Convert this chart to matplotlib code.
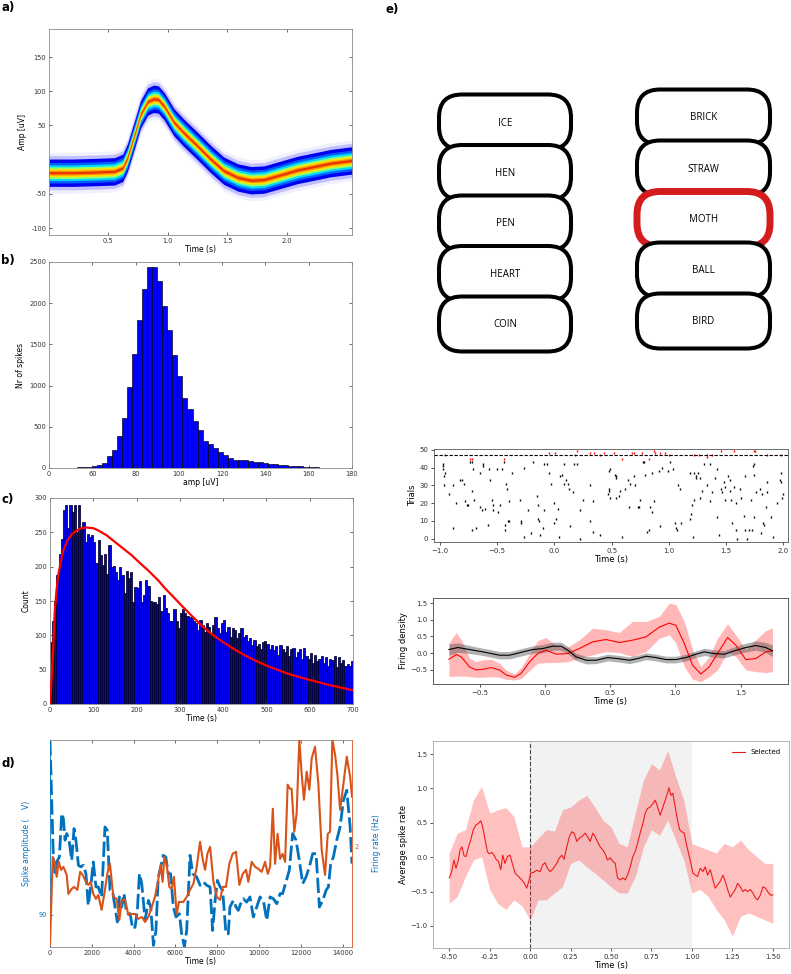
import numpy as np
import matplotlib
matplotlib.use("Agg")
import matplotlib.pyplot as plt
from matplotlib.patches import FancyBboxPatch

W, H = 791, 974

# a) mean spike waveform (density centre line)
wave_t = [0.0, 0.2, 0.4, 0.55, 0.62, 0.66, 0.72, 0.77, 0.83, 0.88, 0.92, 0.97, 1.05,
          1.13, 1.25, 1.36, 1.47, 1.59, 1.70, 1.81, 1.95, 2.09, 2.23, 2.37, 2.55]
wave_amp = [-19, -19, -18, -17, -12, 3, 37, 66, 85, 89, 88, 78, 55,
            40, 20, 1, -16, -26, -30, -29, -22, -15, -10, -5, -1]

# b) amplitude histogram
amp_start, amp_width = 50.4, 2.33
amp_counts = [5, 8, 12, 15, 25, 40, 65, 146, 220, 390,
              606, 980, 1378, 1793, 2170, 2435, 2435, 2272, 1967, 1679,
              1366, 1122, 850, 711, 565, 460, 329, 289, 248, 199,
              155, 118, 100, 98, 96, 80, 74, 68, 60, 54,
              48, 42, 36, 30, 26, 22, 16, 11, 7, 4]

# c) inter-spike histogram + fit
isi_counts = [91, 121, 150, 188, 219, 241, 282, 290, 256, 290,
              280, 290, 251, 290, 256, 265, 236, 247, 243, 246,
              236, 205, 239, 217, 202, 218, 190, 232, 200, 201,
              192, 180, 200, 188, 161, 193, 183, 192, 149, 170,
              169, 179, 149, 159, 181, 172, 150, 149, 149, 146,
              156, 135, 159, 140, 133, 121, 121, 138, 121, 110,
              133, 138, 133, 128, 126, 125, 121, 118, 108, 122,
              115, 105, 118, 112, 100, 115, 126, 110, 104, 118,
              122, 105, 112, 98, 110, 108, 96, 104, 110, 97,
              100, 92, 96, 86, 93, 84, 88, 80, 90, 92,
              88, 80, 86, 78, 84, 72, 86, 80, 76, 84,
              70, 80, 82, 68, 76, 80, 66, 82, 70, 66,
              75, 60, 72, 62, 66, 70, 60, 68, 56, 66,
              64, 70, 54, 68, 60, 64, 56, 58, 55, 62]
fit_t = [0, 4, 7, 11, 15, 19, 25, 30, 40, 50, 60, 72, 85, 100, 111, 130, 150, 170, 188,
         210, 226, 250, 265, 285, 303, 325, 349, 375, 400, 425, 450, 475, 500, 550, 600, 650, 700]
fit_y = [0, 40, 75, 135, 165, 188, 207, 222, 238, 247, 252, 256, 257, 256, 253, 246, 236, 226, 217,
         204, 195, 180, 169, 156, 144, 130, 115, 101, 90, 80, 71, 63, 56, 44, 35, 27, 20]

# d) amplitude (blue) and firing rate (orange) over the session
rate_t = [0, 130, 240, 320, 420, 530, 640, 800, 880, 1040,
          1150, 1310, 1440, 1560, 1720, 1830, 1950, 2070, 2200, 2310,
          2470, 2630, 2740, 2870, 3030, 3190, 3320, 3430, 3590, 3750,
          3910, 4070, 4230, 4390, 4550, 4710, 4870, 5020, 5180, 5300,
          5390, 5470, 5580, 5710, 5820, 5930, 6060, 6170, 6380, 6540,
          6700, 6860, 7020, 7180, 7310, 7420, 7530, 7660, 7820, 7980,
          8140, 8260, 8420, 8580, 8740, 8900, 9060, 9220, 9380, 9490,
          9650, 9810, 9970, 10130, 10290, 10420, 10530, 10660, 10770, 10890,
          11010, 11130, 11250, 11370, 11480, 11560, 11690, 11800, 11930, 12040,
          12150, 12280, 12410, 12520, 12680, 12840, 13000, 13160, 13290, 13400,
          13510, 13640, 13750, 13880, 14040, 14200, 14360, 14450]
rate_hz = [1.02, 1.90, 1.82, 1.70, 1.85, 1.77, 1.80, 1.72, 1.53, 1.58,
           1.60, 1.57, 1.75, 1.72, 1.65, 1.62, 1.65, 1.53, 1.48, 1.52,
           1.37, 1.57, 1.73, 1.83, 1.50, 1.48, 1.27, 1.47, 1.47, 1.32,
           1.33, 1.33, 1.28, 1.30, 1.25, 1.30, 1.40, 1.50, 1.67, 1.82,
           1.65, 1.90, 1.83, 1.60, 1.58, 1.70, 1.33, 1.45, 1.45, 1.50,
           1.57, 1.63, 1.80, 2.05, 1.87, 1.77, 1.93, 2.00, 1.65, 1.50,
           1.47, 1.60, 1.60, 1.83, 1.93, 1.95, 1.62, 1.73, 1.77, 1.65,
           1.85, 1.80, 1.78, 1.75, 1.85, 1.73, 1.80, 2.38, 1.83, 2.13,
           1.88, 1.93, 1.85, 2.62, 2.58, 2.58, 2.15, 2.33, 3.07, 2.73,
           2.47, 2.75, 2.57, 2.88, 3.00, 2.63, 1.97, 1.72, 2.13, 2.15,
           3.07, 2.92, 2.72, 2.37, 2.63, 2.90, 2.70, 2.50]
amp_t = [0, 80, 160, 240, 320, 450, 560, 640, 720, 800,
         910, 1040, 1150, 1240, 1360, 1470, 1600, 1720, 1830, 1950,
         2070, 2200, 2310, 2470, 2630, 2740, 2870, 3000, 3110, 3220,
         3320, 3430, 3540, 3670, 3830, 3960, 4070, 4180, 4280, 4390,
         4550, 4710, 4820, 4950, 5070, 5180, 5300, 5420, 5540, 5660,
         5770, 5900, 6030, 6190, 6300, 6430, 6540, 6700, 6830, 7020,
         7180, 7340, 7500, 7660, 7780, 7900, 8010, 8140, 8260, 8420,
         8530, 8610, 8770, 8900, 9010, 9120, 9250, 9410, 9570, 9730,
         9890, 10050, 10210, 10370, 10530, 10690, 10850, 11010, 11130, 11290,
         11450, 11610, 11770, 11930, 12090, 12250, 12410, 12570, 12730, 12890,
         13050, 13210, 13320, 13430, 13560, 13720, 13880, 14040, 14200, 14360,
         14450]
amp_uv = [98.42, 95.52, 92.78, 91.97, 92.54, 92.78, 94.88, 94.63, 93.59, 93.91,
          93.59, 92.62, 94.15, 93.59, 92.38, 92.30, 92.38, 91.97, 90.44, 91.33,
          92.54, 91.33, 91.33, 90.85, 94.23, 94.07, 91.17, 91.09, 90.36, 89.64,
          90.85, 90.36, 91.01, 90.04, 90.04, 89.31, 89.39, 90.20, 91.97, 91.49,
          89.72, 90.68, 90.36, 88.51, 89.23, 91.81, 92.30, 92.86, 92.78, 91.97,
          91.97, 90.36, 89.88, 90.04, 89.07, 88.43, 89.23, 92.86, 91.97, 91.81,
          91.41, 91.57, 91.41, 91.33, 89.23, 90.68, 91.65, 91.33, 91.17, 89.07,
          89.07, 90.36, 90.68, 90.36, 90.20, 90.52, 90.76, 90.60, 90.85, 89.88,
          90.36, 90.85, 90.68, 89.72, 90.85, 90.76, 90.52, 91.01, 91.01, 91.57,
          92.14, 93.91, 93.59, 92.62, 91.49, 91.81, 92.30, 92.94, 92.94, 90.36,
          90.68, 91.17, 91.33, 92.46, 92.78, 93.59, 94.23, 95.52, 96.00, 94.23,
          92.46]

# e) word list
left_words = ["ICE", "HEN", "PEN", "HEART", "COIN"]
right_words = ["BRICK", "STRAW", "MOTH", "BALL", "BIRD"]
selected_word = "MOTH"

# raster
spike_t = [-0.973, -0.973, -0.973, -0.961, -0.953, -0.961, -0.915, -0.880, -0.880, -0.856,
           -0.821, -0.804, -0.792, -0.778, -0.766, -0.754, -0.734, -0.722, -0.719, -0.719,
           -0.711, -0.705, -0.682, -0.652, -0.647, -0.632, -0.618, -0.618, -0.609, -0.583,
           -0.571, -0.565, -0.545, -0.536, -0.536, -0.501, -0.495, -0.472, -0.454, -0.443,
           -0.434, -0.428, -0.422, -0.414, -0.408, -0.399, -0.393, -0.370, -0.297, -0.291,
           -0.291, -0.268, -0.268, -0.233, -0.204, -0.189, -0.151, -0.146, -0.140, -0.137,
           -0.125, -0.099, -0.093, -0.087, -0.064, -0.050, -0.029, 0.000, 0.000, 0.012,
           0.032, 0.038, 0.052, 0.067, 0.082, 0.087, 0.102, 0.117, 0.125, 0.140,
           0.163, 0.175, 0.198, 0.221, 0.227, 0.251, 0.309, 0.315, 0.338, 0.338,
           0.402, 0.475, 0.475, 0.475, 0.484, 0.466, 0.489, 0.530, 0.535, 0.540,
           0.542, 0.562, 0.577, 0.591, 0.620, 0.644, 0.650, 0.664, 0.693, 0.702,
           0.731, 0.743, 0.752, 0.775, 0.786, 0.789, 0.810, 0.824, 0.833, 0.853,
           0.853, 0.868, 0.912, 0.920, 0.938, 0.993, 1.014, 1.034, 1.057, 1.066,
           1.072, 1.081, 1.095, 1.110, 1.183, 1.188, 1.197, 1.206, 1.212, 1.218,
           1.223, 1.235, 1.241, 1.255, 1.270, 1.276, 1.290, 1.305, 1.334, 1.357,
           1.363, 1.378, 1.407, 1.416, 1.421, 1.436, 1.451, 1.465, 1.480, 1.486,
           1.494, 1.518, 1.538, 1.532, 1.544, 1.553, 1.567, 1.582, 1.590, 1.596,
           1.625, 1.634, 1.655, 1.669, 1.669, 1.684, 1.698, 1.713, 1.727, 1.736,
           1.742, 1.742, 1.742, 1.765, 1.794, 1.800, 1.815, 1.823, 1.829, 1.844,
           1.858, 1.858, 1.888, 1.908, 1.940, 1.966, 1.975, 1.975, 1.990, 1.998]
spike_trial = [42, 41, 39, 35, 37, 30, 25, 6, 30, 20,
               33, 33, 31, 21, 19, 19, 43, 43, 27, 5,
               39, 22, 6, 37, 18, 16, 42, 41, 17, 8,
               39, 33, 22, 16, 19, 39, 15, 19, 39, 43,
               8, 5, 31, 28, 10, 21, 10, 37, 22, 10,
               9, 40, 1, 16, 3, 43, 24, 19, 11, 10,
               2, 6, 42, 16, 42, 37, 31, 20, 9, 11,
               17, 1, 35, 36, 42, 31, 33, 31, 28, 7,
               26, 42, 42, 16, 0, 22, 30, 10, 4, 21,
               2, 38, 28, 27, 23, 25, 39, 36, 35, 34,
               23, 24, 27, 1, 28, 33, 18, 31, 35, 30,
               18, 18, 22, 43, 43, 36, 4, 5, 18, 37,
               15, 21, 38, 7, 40, 38, 43, 39, 9, 6,
               5, 30, 28, 9, 37, 11, 14, 19, 1, 22,
               37, 34, 35, 37, 34, 23, 27, 42, 30, 42,
               21, 26, 34, 12, 39, 2, 28, 26, 32, 22,
               29, 35, 33, 27, 22, 9, 29, 5, 20, 0,
               28, 23, 13, 5, 35, 0, 5, 22, 5, 41,
               36, 42, 12, 26, 28, 3, 25, 9, 8, 18,
               32, 26, 12, 1, 20, 33, 37, 32, 23, 25]
sel_spike_t = [-0.953, -0.734, -0.719, -0.437, -0.050, 0.003, 0.184, 0.198, 0.315, 0.344,
               0.402, 0.437, 0.519, 0.591, 0.679, 0.693, 0.766, 0.824, 0.868, 0.883,
               0.926, 0.970, 0.999, 1.218, 1.261, 1.334, 1.334, 1.378, 1.451, 1.567,
               1.742, 1.756, 1.858, 1.975]
sel_spike_trial = [47, 45, 45, 45, 48, 48, 47, 49, 48, 48,
                   47, 48, 48, 45, 48, 48, 48, 45, 49, 48,
                   48, 48, 47, 47, 47, 47, 46, 47, 49, 49,
                   49, 49, 47, 47]
split_trial = 47

# firing density
dens_t = [-0.735, -0.679, -0.640, -0.577, -0.526, -0.474, -0.411, -0.347, -0.296, -0.232,
          -0.181, -0.117, -0.054, 0.010, 0.087, 0.176, 0.265, 0.367, 0.469, 0.571,
          0.673, 0.776, 0.878, 0.954, 1.005, 1.069, 1.133, 1.196, 1.260, 1.324,
          1.401, 1.464, 1.541, 1.617, 1.694, 1.745]
dens_sel = [-0.18, -0.04, -0.11, -0.41, -0.50, -0.48, -0.43, -0.50, -0.65, -0.72,
            -0.60, -0.26, -0.01, 0.09, -0.03, -0.01, 0.14, 0.34, 0.41, 0.32,
            0.39, 0.49, 0.78, 0.90, 0.83, 0.29, -0.36, -0.62, -0.41, -0.01,
            0.47, 0.24, -0.19, -0.16, 0.04, 0.07]
dens_sel_hi = [0.30, 0.62, 0.40, -0.15, -0.25, -0.20, -0.18, -0.30, -0.50, -0.62,
               -0.42, -0.02, 0.38, 0.47, 0.22, 0.18, 0.40, 0.75, 0.70, 0.62,
               0.95, 0.95, 1.10, 1.50, 1.45, 0.95, 0.10, -0.40, -0.10, 0.45,
               0.88, 0.55, 0.10, 0.40, 0.68, 0.75]
dens_sel_lo = [-0.69, -0.69, -0.68, -0.70, -0.72, -0.72, -0.70, -0.72, -0.78, -0.80,
               -0.76, -0.52, -0.30, -0.28, -0.28, -0.25, -0.15, -0.05, 0.05, 0.02,
               -0.10, 0.05, 0.45, 0.55, 0.30, -0.40, -0.78, -0.85, -0.70, -0.50,
               0.05, -0.10, -0.50, -0.55, -0.58, -0.55]
dens_other_t = [-0.735, -0.666, -0.577, -0.474, -0.347, -0.270, -0.168, -0.092, -0.015, 0.061,
                0.125, 0.176, 0.240, 0.316, 0.393, 0.482, 0.559, 0.648, 0.712, 0.776,
                0.852, 0.929, 1.005, 1.082, 1.158, 1.222, 1.298, 1.375, 1.452, 1.541,
                1.617, 1.694, 1.745]
dens_other = [0.11, 0.17, 0.11, 0.04, -0.06, -0.06, 0.04, 0.11, 0.14, 0.21,
              0.21, 0.09, -0.11, -0.21, -0.21, -0.13, -0.16, -0.21, -0.16, -0.09,
              -0.13, -0.19, -0.19, -0.13, -0.03, 0.04, -0.01, -0.03, 0.07, 0.17,
              0.23, 0.17, 0.07]
dens_other_sem = [0.17, 0.14, 0.12, 0.11, 0.11, 0.11, 0.11, 0.11, 0.12, 0.12,
                  0.12, 0.11, 0.11, 0.11, 0.10, 0.10, 0.10, 0.10, 0.10, 0.10,
                  0.10, 0.10, 0.10, 0.10, 0.10, 0.11, 0.11, 0.11, 0.12, 0.13,
                  0.14, 0.15, 0.17]

# average spike rate
rate2_t = [-0.499, -0.485, -0.470, -0.458, -0.443, -0.433, -0.421, -0.408, -0.396, -0.381,
           -0.367, -0.351, -0.334, -0.320, -0.305, -0.293, -0.278, -0.264, -0.252, -0.237,
           -0.223, -0.210, -0.196, -0.181, -0.169, -0.155, -0.140, -0.124, -0.107, -0.093,
           -0.072, -0.052, -0.037, -0.021, -0.008, 0.004, 0.021, 0.041, 0.062, 0.078,
           0.093, 0.107, 0.124, 0.144, 0.165, 0.181, 0.196, 0.210, 0.227, 0.243,
           0.258, 0.272, 0.289, 0.305, 0.320, 0.340, 0.355, 0.371, 0.388, 0.402,
           0.416, 0.433, 0.449, 0.464, 0.478, 0.495, 0.511, 0.526, 0.540, 0.557,
           0.573, 0.588, 0.602, 0.619, 0.635, 0.649, 0.664, 0.680, 0.697, 0.711,
           0.726, 0.742, 0.759, 0.773, 0.788, 0.804, 0.821, 0.835, 0.849, 0.858,
           0.870, 0.882, 0.897, 0.911, 0.924, 0.938, 0.953, 0.965, 0.979, 0.994,
           1.006, 1.021, 1.035, 1.052, 1.068, 1.082, 1.097, 1.113, 1.130, 1.144,
           1.159, 1.175, 1.192, 1.206, 1.221, 1.237, 1.254, 1.268, 1.282, 1.299,
           1.315, 1.330, 1.344, 1.361, 1.377, 1.392, 1.406, 1.423, 1.439, 1.454,
           1.468, 1.485, 1.500]
rate2 = [-0.30, -0.21, -0.04, -0.16, -0.04, 0.11, 0.15, 0.02, 0.01, 0.15,
         0.25, 0.40, 0.47, 0.49, 0.53, 0.44, 0.25, 0.08, 0.05, 0.07,
         0.03, -0.03, -0.06, -0.18, 0.03, -0.09, 0.01, 0.03, -0.11, -0.23,
         -0.28, -0.33, -0.37, -0.45, -0.35, -0.23, -0.22, -0.19, -0.21, -0.11,
         -0.08, -0.16, -0.21, -0.16, -0.09, -0.01, 0.03, -0.03, 0.15, 0.30,
         0.37, 0.35, 0.23, 0.28, 0.30, 0.35, 0.30, 0.23, 0.35, 0.30,
         0.23, 0.15, 0.11, 0.05, -0.04, -0.01, -0.06, -0.09, -0.30, -0.33,
         -0.30, -0.33, -0.26, -0.14, 0.01, 0.08, 0.20, 0.35, 0.49, 0.64,
         0.71, 0.73, 0.78, 0.83, 0.73, 0.61, 0.73, 0.83, 0.93, 1.01,
         0.90, 0.93, 0.73, 0.54, 0.40, 0.37, 0.35, 0.20, 0.06, -0.09,
         -0.23, -0.26, -0.28, -0.16, -0.21, -0.14, -0.26, -0.18, -0.33, -0.45,
         -0.40, -0.35, -0.26, -0.35, -0.47, -0.58, -0.52, -0.47, -0.38, -0.43,
         -0.50, -0.47, -0.50, -0.47, -0.52, -0.59, -0.62, -0.55, -0.43, -0.45,
         -0.50, -0.55, -0.55]
rate2_band_t = [-0.50, -0.45, -0.40, -0.35, -0.30, -0.25, -0.20, -0.15, -0.10, -0.05,
                0.00, 0.05, 0.10, 0.15, 0.20, 0.25, 0.30, 0.35, 0.40, 0.45,
                0.50, 0.55, 0.60, 0.65, 0.70, 0.75, 0.80, 0.85, 0.90, 0.95,
                1.00, 1.05, 1.10, 1.15, 1.20, 1.25, 1.30, 1.35, 1.40, 1.45, 1.50]
rate2_hi = [0.06, 0.35, 0.40, 0.83, 1.03, 0.64, 0.69, 0.72, 0.59, 0.15,
            0.15, 0.28, 0.40, 0.38, 0.69, 0.73, 0.83, 0.90, 0.73, 0.54,
            0.44, 0.20, 0.15, 0.64, 1.12, 1.36, 1.27, 1.55, 1.17, 0.83,
            0.20, 0.15, 0.11, 0.06, 0.20, 0.15, 0.25, 0.11, 0.01, -0.09, -0.09]
rate2_lo = [-0.67, -0.57, -0.28, -0.04, 0.01, -0.47, -0.67, -0.76, -0.62, -0.71,
            -0.91, -0.62, -0.62, -0.52, -0.43, -0.09, -0.04, -0.14, -0.23, -0.33,
            -0.43, -0.52, -0.52, -0.28, 0.15, 0.40, 0.32, 0.54, 0.25, -0.04,
            -0.52, -0.47, -0.57, -0.76, -0.91, -1.15, -0.86, -0.81, -0.86, -0.91, -0.96]
stim_window = (0.0, 1.0)

BLUE_D = "#0072BD"
ORANGE_D = "#D95319"


def px_axes(fig, left, top, right, bottom):
    return fig.add_axes([left / W, 1 - bottom / H, (right - left) / W, (bottom - top) / H])


def matlab_style(ax):
    ax.tick_params(direction="in", top=True, right=True, length=2.5, width=0.5,
                   labelsize=4.8, colors="#333333", pad=2)
    for sp in ax.spines.values():
        sp.set_color("#8a8a8a")
        sp.set_linewidth(0.6)


def mpl_style(ax, spine="#444444"):
    ax.tick_params(length=2.5, width=0.6, labelsize=5, colors="#333333", pad=1.5)
    for sp in ax.spines.values():
        sp.set_color(spine)
        sp.set_linewidth(0.6)


fig = plt.figure(figsize=(W / 100, H / 100), dpi=100)

# ---- a) waveform density
ax = px_axes(fig, 49, 29, 352, 235)
amp = np.array(wave_amp, dtype=float)
layers = [(30, "#f0f0ff"), (25, "#c0c0ff"), (20, "#0000f0"), (15, "#0060ff"), (11.5, "#00d8ff"),
          (8.5, "#90ff70"), (6, "#ffe000"), (3.5, "#ff8a00"), (1.5, "#e83000")]
for hw, col in layers:
    ax.fill_between(wave_t, amp - hw, amp + hw, color=col, lw=0)
ax.set_xlim(0, 2.55)
ax.set_ylim(-110, 191)
ax.set_yticks([-100, -50, 50, 100, 150])
ax.set_yticklabels(["-100", "-50", "50", "100", "150"])
ax.set_xticks([0.5, 1.0, 1.5, 2.0])
ax.set_xticklabels(["0.5", "1.0", "1.5", "2.0"])
matlab_style(ax)
ax.set_xlabel("Time (s)", fontsize=5.5, labelpad=1)
ax.set_ylabel("Amp [uV]", fontsize=5.5, labelpad=3)

# ---- b) amplitude histogram
ax = px_axes(fig, 49, 262, 352, 468)
left_edges = amp_start + amp_width * np.arange(len(amp_counts))
ax.bar(left_edges, amp_counts, width=amp_width, align="edge", color="#0000ff",
       edgecolor="black", linewidth=0.45)
ax.set_xlim(40, 180)
ax.set_ylim(0, 2500)
ax.set_xticks(np.arange(40, 181, 20))
ax.set_xticklabels(["0", "60", "80", "100", "120", "140", "160", "180"])
ax.set_yticks(np.arange(0, 2501, 500))
matlab_style(ax)
ax.set_xlabel("amp [uV]", fontsize=5.5, labelpad=1)
ax.set_ylabel("Nr of spikes", fontsize=5.5, labelpad=3)

# ---- c) ISI histogram with fit
ax = px_axes(fig, 50, 498, 353, 704)
ax.bar(np.arange(len(isi_counts)) * 5, isi_counts, width=5, align="edge", color="#0000ee",
       edgecolor="#000022", linewidth=0.55)
ax.plot(fit_t, fit_y, color="#ff0000", lw=1.6, zorder=3)
ax.set_xlim(0, 700)
ax.set_ylim(0, 300)
ax.set_xticks(np.arange(0, 701, 100))
ax.set_yticks(np.arange(0, 301, 50))
matlab_style(ax)
ax.set_xlabel("Time (s)", fontsize=5.5, labelpad=1)
ax.set_ylabel("Count", fontsize=5.5, labelpad=3)

# ---- d) amplitude / firing rate over time
ax = px_axes(fig, 50, 740, 352, 947)
ax.plot(amp_t, amp_uv, color=BLUE_D, lw=2.0, dashes=(5.5, 1.6))
ax.set_xlim(0, 14450)
ax.set_ylim(88.43, 98.43)
ax.set_xticks(np.arange(0, 14001, 2000))
ax.set_yticks([90])
ax.tick_params(direction="in", top=True, length=2.5, width=0.5, labelsize=4.8, pad=2)
ax.tick_params(axis="x", colors="#333333")
ax.tick_params(axis="y", colors=BLUE_D)
for name in ("top", "bottom"):
    ax.spines[name].set_color("#8a8a8a")
    ax.spines[name].set_linewidth(0.6)
ax.spines["left"].set_color(BLUE_D)
ax.spines["left"].set_linewidth(0.6)
ax.spines["right"].set_visible(False)
ax.set_xlabel("Time (s)", fontsize=5.5, labelpad=1)
ax.set_ylabel("Spike amplitude (    V)", fontsize=5.5, color=BLUE_D, labelpad=6)
ax2 = ax.twinx()
ax2.plot(rate_t, rate_hz, color=ORANGE_D, lw=1.5)
ax2.set_ylim(1.0, 3.066)
ax2.set_yticks([2])
ax2.tick_params(direction="in", length=2.5, width=0.5, labelsize=4.8, colors=ORANGE_D, pad=2)
for name in ("top", "bottom", "left"):
    ax2.spines[name].set_visible(False)
ax2.spines["right"].set_color(ORANGE_D)
ax2.spines["right"].set_linewidth(0.6)
ax2.set_ylabel("Firing rate (Hz)", fontsize=5.5, color=BLUE_D, rotation=90, labelpad=9)

# ---- e) word list
ax = px_axes(fig, 400, 0, 791, 360)
ax.set_xlim(400, 791)
ax.set_ylim(360, 0)
ax.axis("off")
columns = [(left_words, 439, 132, 122, 50.5), (right_words, 637, 133, 117, 51.0)]
box_h = 55
for words, x0, bw, cy0, step in columns:
    for i, word in enumerate(words):
        cy = cy0 + i * step
        sel = word == selected_word
        box = FancyBboxPatch((x0, cy - box_h / 2), bw, box_h,
                             boxstyle="round,pad=0,rounding_size=23",
                             facecolor="white", edgecolor="#d41c1c" if sel else "black",
                             linewidth=5.0 if sel else 2.9, zorder=i + 1)
        ax.add_patch(box)
        ax.text(x0 + bw / 2, cy + 1, word, ha="center", va="center", fontsize=7,
                family=["Open Sans", "DejaVu Sans"], zorder=i + 1.5)

# ---- raster
ax = px_axes(fig, 434, 449, 788, 542)
ax.plot(spike_t, spike_trial, "|", color="black", ms=1.8, mew=1.0)
ax.plot(sel_spike_t, sel_spike_trial, "|", color="red", ms=1.8, mew=1.0)
ax.axhline(split_trial, color="black", ls="--", lw=0.8, dashes=(3, 1.5))
ax.set_xlim(-1.05, 2.04)
ax.set_ylim(-1.8, 50.4)
ax.set_yticks(np.arange(0, 51, 10))
ax.set_xticks(np.arange(-1.0, 2.01, 0.5))
mpl_style(ax, "#555555")
ax.set_xlabel("Time (s)", fontsize=6, labelpad=1)
ax.set_ylabel("Trials", fontsize=6, labelpad=2)

# ---- firing density
ax = px_axes(fig, 433, 598, 788, 684)
oth = np.array(dens_other)
sem = np.array(dens_other_sem)
ax.fill_between(dens_t, dens_sel_lo, dens_sel_hi, color="#ff4d4d", alpha=0.4, lw=0)
ax.fill_between(dens_other_t, oth - sem, oth + sem, color="#555555", alpha=0.45, lw=0)
ax.plot(dens_t, dens_sel, color="red", lw=0.8)
ax.plot(dens_other_t, dens_other, color="black", lw=0.8)
ax.set_xlim(-0.857, 1.864)
ax.set_ylim(-0.92, 1.65)
ax.set_xticks([-0.5, 0.0, 0.5, 1.0, 1.5])
ax.set_yticks([-0.5, 0.0, 0.5, 1.0, 1.5])
mpl_style(ax)
ax.set_xlabel("Time (s)", fontsize=6, labelpad=1)
ax.set_ylabel("Firing density", fontsize=6, labelpad=2)

# ---- average spike rate
ax = px_axes(fig, 433, 741, 789, 948)
ax.axvspan(*stim_window, color="#f2f2f2", lw=0, zorder=0)
ax.axvline(0, color="#444444", ls="--", lw=0.8, zorder=1)
ax.fill_between(rate2_band_t, rate2_lo, rate2_hi, color="#ff3030", alpha=0.3, lw=0, zorder=2)
ax.plot(rate2_t, rate2, color="#ee1c1c", lw=0.8, label="Selected", zorder=3)
ax.set_xlim(-0.6, 1.6)
ax.set_ylim(-1.32, 1.69)
ax.set_xticks(np.arange(-0.5, 1.51, 0.25))
ax.set_xticklabels([f"{v:.2f}" for v in np.arange(-0.5, 1.51, 0.25)])
ax.set_yticks([-1.0, -0.5, 0.0, 0.5, 1.0, 1.5])
mpl_style(ax, "#aaaaaa")
ax.legend(loc="upper right", frameon=False, fontsize=5, handlelength=1.8, borderaxespad=0.8)
ax.set_xlabel("Time (s)", fontsize=6, labelpad=1)
ax.set_ylabel("Average spike rate", fontsize=6, labelpad=2)

# panel letters
for lab, x, y in [("a)", 1, 7), ("b)", 1, 260), ("c)", 1, 500), ("d)", 1, 763), ("e)", 386, 9)]:
    fig.text(x / W, 1 - y / H, lab, fontsize=8.5, fontweight="bold", va="center", ha="left")

fig.savefig("out.png", dpi=100)
